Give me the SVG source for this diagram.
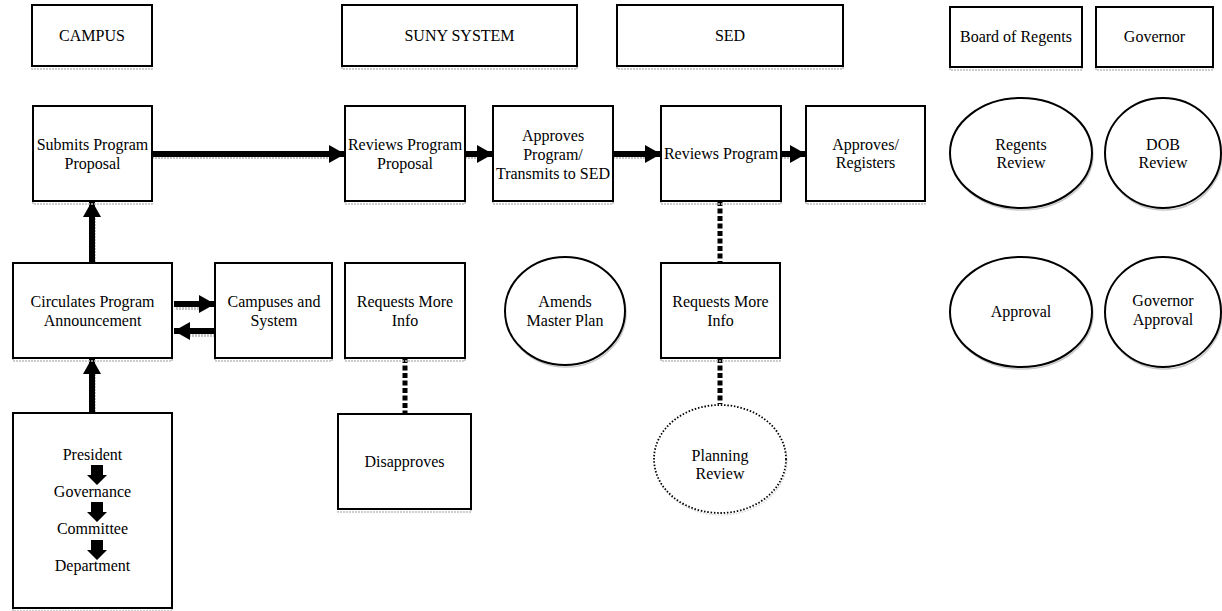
<svg xmlns="http://www.w3.org/2000/svg" width="1222" height="611" viewBox="0 0 1222 611" font-family="'Liberation Serif', 'Times New Roman', 'DejaVu Serif', serif">
<defs>
<style>
.box{fill:#fff;stroke:#000;stroke-width:2}
.sh{fill:none;stroke:#bdbdbd;stroke-width:1.5;stroke-dasharray:2 1}
.t{font-family:'Liberation Serif', 'Times New Roman', 'DejaVu Serif', serif;font-size:16px;fill:#000;text-anchor:middle}
.arr{stroke:#000;stroke-width:6;fill:none}
.arrsh{stroke:#c4c4c4;stroke-width:4;fill:none;stroke-dasharray:2 1}
.dash{stroke:#000;stroke-width:5;fill:none;stroke-dasharray:5 2.5}
</style>
<marker id="ah" markerUnits="userSpaceOnUse" markerWidth="17" markerHeight="20" refX="16" refY="10" orient="auto" viewBox="0 0 17 20">
<path d="M0,1 L16,10 L0,19 z" fill="#000"/>
</marker>
</defs>
<rect width="1222" height="611" fill="#fff"/>

<g id="connectors">
<line class="arrsh" x1="152" y1="157" x2="330" y2="157"/>
<line class="arrsh" x1="465" y1="157" x2="478" y2="157"/>
<line class="arrsh" x1="613" y1="157" x2="646" y2="157"/>
<line class="arrsh" x1="781" y1="157" x2="792" y2="157"/>
<line class="arrsh" x1="176" y1="308" x2="203" y2="308"/>
<line class="arrsh" x1="215" y1="335" x2="190" y2="335"/>
<line class="arrsh" x1="94" y1="262" x2="94" y2="217"/>
<line class="arrsh" x1="94" y1="412" x2="94" y2="372"/>
<line class="arr" x1="152" y1="154" x2="345" y2="154" marker-end="url(#ah)"/>
<line class="arr" x1="465" y1="154" x2="493" y2="154" marker-end="url(#ah)"/>
<line class="arr" x1="613" y1="154" x2="661" y2="154" marker-end="url(#ah)"/>
<line class="arr" x1="781" y1="154" x2="806" y2="154" marker-end="url(#ah)"/>
<line class="arr" x1="174" y1="304" x2="215" y2="304" marker-end="url(#ah)"/>
<line class="arr" x1="215" y1="331" x2="174" y2="331" marker-end="url(#ah)"/>
<line class="arr" x1="92" y1="264" x2="92" y2="201" marker-end="url(#ah)"/>
<line class="arr" x1="92" y1="413" x2="92" y2="358" marker-end="url(#ah)"/>
<line class="dash" x1="405" y1="358" x2="405" y2="414"/>
<line class="dash" x1="720" y1="201" x2="720" y2="263"/>
<line class="dash" x1="720" y1="358" x2="720" y2="404"/>
</g>

<g id="campus">
<rect class="sh" x="32" y="8" width="120" height="61"/>
<rect class="box" x="32" y="5" width="120" height="61"/>
<text class="t" x="92" y="41">CAMPUS</text>
</g>
<g id="suny">
<rect class="sh" x="342" y="8" width="235" height="61"/>
<rect class="box" x="342" y="5" width="235" height="61"/>
<text class="t" x="459.5" y="41">SUNY SYSTEM</text>
</g>
<g id="sed">
<rect class="sh" x="617" y="8" width="226" height="61"/>
<rect class="box" x="617" y="5" width="226" height="61"/>
<text class="t" x="730" y="41">SED</text>
</g>
<g id="regents">
<rect class="sh" x="950" y="10" width="132" height="60"/>
<rect class="box" x="950" y="7" width="132" height="60"/>
<text class="t" x="1016" y="42">Board of Regents</text>
</g>
<g id="governor">
<rect class="sh" x="1096" y="10" width="117" height="60"/>
<rect class="box" x="1096" y="7" width="117" height="60"/>
<text class="t" x="1154.5" y="42">Governor</text>
</g>

<g id="submits">
<rect class="sh" x="33" y="109" width="119" height="95"/>
<rect class="box" x="33" y="106" width="119" height="95"/>
<text class="t" x="92.5" y="150">Submits Program</text>
<text class="t" x="92.5" y="169">Proposal</text>
</g>
<g id="reviews-proposal">
<rect class="sh" x="345" y="109" width="120" height="95"/>
<rect class="box" x="345" y="106" width="120" height="95"/>
<text class="t" x="405" y="150">Reviews Program</text>
<text class="t" x="405" y="169">Proposal</text>
</g>
<g id="approves-program">
<rect class="sh" x="493" y="109" width="120" height="95"/>
<rect class="box" x="493" y="106" width="120" height="95"/>
<text class="t" x="553" y="141">Approves</text>
<text class="t" x="553" y="160">Program/</text>
<text class="t" x="553" y="179">Transmits to SED</text>
</g>
<g id="reviews-program">
<rect class="sh" x="661" y="109" width="120" height="95"/>
<rect class="box" x="661" y="106" width="120" height="95"/>
<text class="t" x="721" y="159">Reviews Program</text>
</g>
<g id="approves-registers">
<rect class="sh" x="806" y="109" width="119" height="95"/>
<rect class="box" x="806" y="106" width="119" height="95"/>
<text class="t" x="865.5" y="150">Approves/</text>
<text class="t" x="865.5" y="168">Registers</text>
</g>

<g id="circulates">
<rect class="sh" x="13" y="266" width="159" height="95"/>
<rect class="box" x="13" y="263" width="159" height="95"/>
<text class="t" x="92.5" y="307">Circulates Program</text>
<text class="t" x="92.5" y="326">Announcement</text>
</g>
<g id="campuses-system">
<rect class="sh" x="215" y="266" width="117" height="95"/>
<rect class="box" x="215" y="263" width="117" height="95"/>
<text class="t" x="274" y="307">Campuses and</text>
<text class="t" x="274" y="326">System</text>
</g>
<g id="requests-suny">
<rect class="sh" x="345" y="266" width="120" height="95"/>
<rect class="box" x="345" y="263" width="120" height="95"/>
<text class="t" x="405" y="307">Requests More</text>
<text class="t" x="405" y="326">Info</text>
</g>
<g id="amends">
<ellipse cx="566" cy="313" rx="60" ry="54" fill="none" stroke="#c8c8c8" stroke-width="1.5"/>
<ellipse cx="565" cy="311" rx="60" ry="54" fill="#fff" stroke="#000" stroke-width="2"/>
<text class="t" x="565" y="307">Amends</text>
<text class="t" x="565" y="326">Master Plan</text>
</g>
<g id="requests-sed">
<rect class="sh" x="661" y="266" width="119" height="95"/>
<rect class="box" x="661" y="263" width="119" height="95"/>
<text class="t" x="720.5" y="307">Requests More</text>
<text class="t" x="720.5" y="326">Info</text>
</g>

<g id="regents-review">
<ellipse cx="1022" cy="155" rx="71" ry="55" fill="none" stroke="#c8c8c8" stroke-width="1.5"/>
<ellipse cx="1021" cy="153" rx="71" ry="55" fill="#fff" stroke="#000" stroke-width="2"/>
<text class="t" x="1021" y="150">Regents</text>
<text class="t" x="1021" y="168">Review</text>
</g>
<g id="dob-review">
<ellipse cx="1164" cy="155" rx="58" ry="55" fill="none" stroke="#c8c8c8" stroke-width="1.5"/>
<ellipse cx="1163" cy="153" rx="58" ry="55" fill="#fff" stroke="#000" stroke-width="2"/>
<text class="t" x="1163" y="150">DOB</text>
<text class="t" x="1163" y="168">Review</text>
</g>
<g id="approval">
<ellipse cx="1022" cy="314" rx="71" ry="55" fill="none" stroke="#c8c8c8" stroke-width="1.5"/>
<ellipse cx="1021" cy="312" rx="71" ry="55" fill="#fff" stroke="#000" stroke-width="2"/>
<text class="t" x="1021" y="317">Approval</text>
</g>
<g id="governor-approval">
<ellipse cx="1164" cy="314" rx="58" ry="55" fill="none" stroke="#c8c8c8" stroke-width="1.5"/>
<ellipse cx="1163" cy="312" rx="58" ry="55" fill="#fff" stroke="#000" stroke-width="2"/>
<text class="t" x="1163" y="306">Governor</text>
<text class="t" x="1163" y="325">Approval</text>
</g>

<g id="president">
<rect class="sh" x="13" y="416" width="159" height="195"/>
<rect class="box" x="13" y="413" width="159" height="195"/>
<text class="t" x="92.5" y="460">President</text>
<polygon points="91,465 103,465 103,475 107,475 97,485 87,475 91,475" fill="#000"/>
<text class="t" x="92.5" y="497">Governance</text>
<polygon points="91,502 103,502 103,512 107,512 97,522 87,512 91,512" fill="#000"/>
<text class="t" x="92.5" y="534">Committee</text>
<polygon points="91,540 103,540 103,550 107,550 97,560 87,550 91,550" fill="#000"/>
<text class="t" x="92.5" y="571">Department</text>
</g>
<g id="disapproves">
<rect class="sh" x="338" y="417" width="133" height="95"/>
<rect class="box" x="338" y="414" width="133" height="95"/>
<text class="t" x="404.5" y="467">Disapproves</text>
</g>
<g id="planning-review">
<ellipse cx="721" cy="461" rx="66" ry="54" fill="none" stroke="#d0d0d0" stroke-width="1.2" stroke-dasharray="1.5 1.5"/>
<ellipse cx="720" cy="459" rx="66" ry="54" fill="#fff" stroke="#000" stroke-width="1.8" stroke-dasharray="1.5 1.8"/>
<text class="t" x="720" y="461">Planning</text>
<text class="t" x="720" y="479">Review</text>
</g>
</svg>
